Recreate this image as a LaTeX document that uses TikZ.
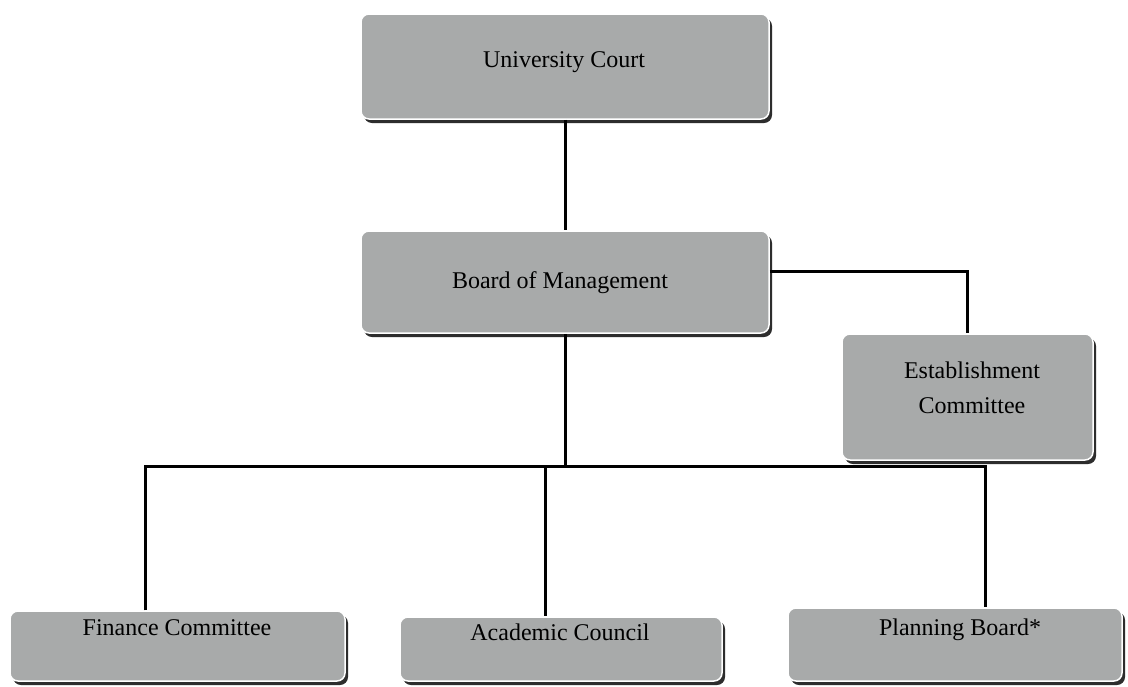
\documentclass[tikz,border=0pt]{standalone}
\usepackage{fontspec}
\setmainfont{Liberation Serif}
\usetikzlibrary{shadows}
\definecolor{boxgray}{RGB}{168,170,170}
\definecolor{shadowgray}{RGB}{45,45,45}
\tikzset{
  orgbox/.style={rounded corners=8pt, fill=boxgray, draw=white, line width=1.5pt,
    inner sep=0pt, minimum width=#1,
    drop shadow={shadow xshift=3pt, shadow yshift=-4pt, fill=shadowgray, opacity=1}},
  lbl/.style={font=\fontsize{24}{35}\selectfont, align=center, inner sep=0pt, text=black},
  conn/.style={line width=3pt, black}
}
\begin{document}
\begin{tikzpicture}[x=1pt,y=-1pt]
\fill[white] (0,0) rectangle (1128,686);
\useasboundingbox (0,0) rectangle (1128,686);
% boxes
\node[orgbox=408pt, minimum height=105pt] (uc) at (565,66.5) {};
\node[orgbox=408pt, minimum height=102pt] (bom) at (565,282) {};
\node[orgbox=251pt, minimum height=126pt] (ec) at (967.5,397) {};
\node[orgbox=335pt, minimum height=70pt] (fc) at (177.5,646) {};
\node[orgbox=322pt, minimum height=64pt] (ac) at (561,649) {};
\node[orgbox=334pt, minimum height=73pt] (pb) at (955,644.5) {};
% labels
\node[lbl] (uct) at (564,62) {University Court};
\node[lbl] (bomt) at (560,283) {Board of Management};
\node[lbl] (ect) at (972,388) {Establishment\\Committee};
\node[lbl] (fct) at (177,628) {Finance Committee};
\node[lbl] (act) at (560,632) {Academic Council};
\node[lbl] (pbt) at (960,630) {Planning Board*};
% connectors
\coordinate (bL) at (145,466);
\coordinate (bA) at (545,466);
\coordinate (bR) at (985,466);
\draw[conn] (uc.south) -- (bom.north);
\draw[conn] ([yshift=11pt]bom.east) -| (ec.north);
\draw[conn] (bom.south) -- (bom.south |- bL);
\draw[conn] (bL |- fc.north) -- (bL) -- (bR) -- (bR |- pb.north);
\draw[conn] (bA) -- (bA |- ac.north);
\end{tikzpicture}
\end{document}
